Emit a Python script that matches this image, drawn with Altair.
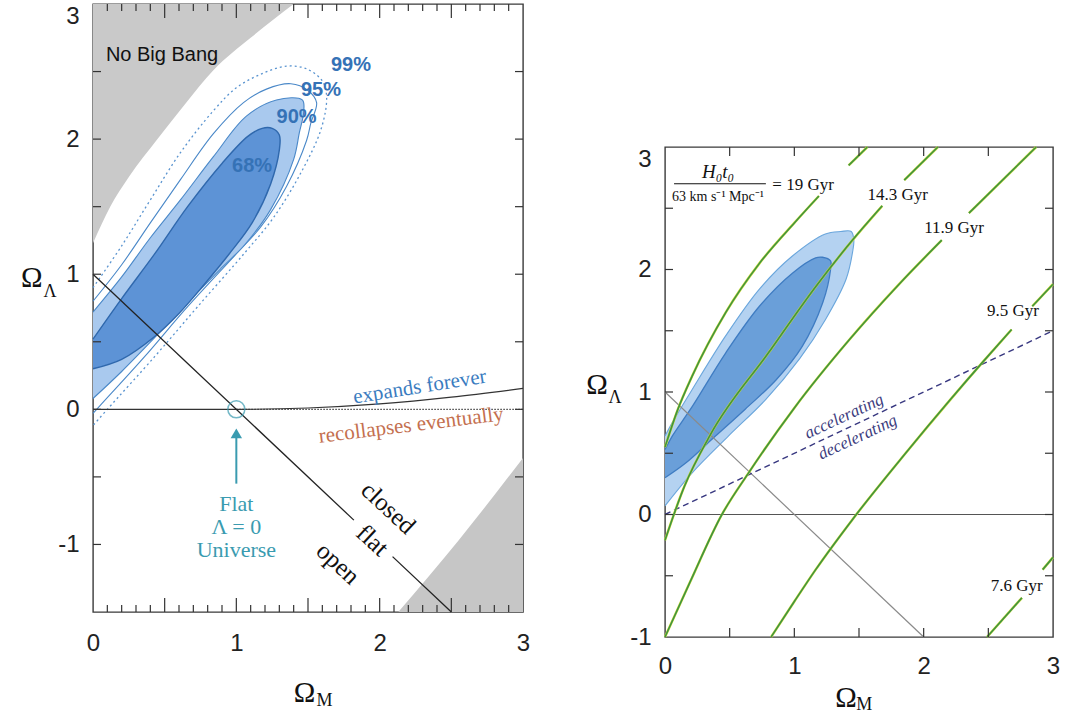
import altair as alt
import pandas as pd

# ---------------- LEFT PANEL DATA ----------------
nbb_x = [0.0, 0.06, 0.12, 0.25, 0.45, 0.65, 0.84, 1.1, 1.4]
nbb_y = [1.23, 1.37, 1.5, 1.72, 2.0, 2.27, 2.51, 2.75, 3.0]
br_x = [2.13, 2.55, 3.0]
br_y = [-1.5, -0.97, -0.36]

dark68_x = [0.0, 0.2, 0.43, 0.66, 0.9, 1.08, 1.18, 1.25, 1.30, 1.30, 1.24, 1.11, 0.95, 0.78, 0.6, 0.42, 0.2, 0.0]
dark68_y = [0.52, 0.82, 1.15, 1.50, 1.82, 2.02, 2.08, 2.08, 2.03, 1.92, 1.67, 1.38, 1.15, 0.93, 0.71, 0.53, 0.37, 0.30]
light90_x = [0.0, 0.2, 0.4, 0.61, 0.84, 1.07, 1.28, 1.46, 1.47, 1.44, 1.40, 1.24, 1.06, 0.9, 0.66, 0.43, 0.2, 0.0]
light90_y = [0.72, 0.98, 1.27, 1.55, 1.87, 2.17, 2.29, 2.29, 2.2, 2.05, 1.85, 1.48, 1.22, 1.05, 0.79, 0.53, 0.28, 0.08]
c95_x = [0.0, 0.2, 0.4, 0.61, 0.84, 1.05, 1.21, 1.38, 1.50, 1.56, 1.52, 1.49, 1.35, 1.17, 0.99, 0.66, 0.36, 0.06, 0.0]
c95_y = [0.80, 1.07, 1.38, 1.70, 2.04, 2.27, 2.37, 2.41, 2.36, 2.27, 2.12, 1.99, 1.65, 1.35, 1.14, 0.76, 0.39, 0.04, -0.03]
c99_x = [0.0, 0.2, 0.4, 0.61, 0.84, 1.0, 1.17, 1.35, 1.49, 1.60, 1.63, 1.59, 1.45, 1.26, 1.06, 0.73, 0.43, 0.1, 0.0]
c99_y = [0.90, 1.21, 1.55, 1.90, 2.21, 2.38, 2.48, 2.54, 2.52, 2.43, 2.31, 2.07, 1.75, 1.42, 1.16, 0.76, 0.39, 0.0, -0.12]

expand_x = [0.0, 1.0, 1.5, 2.0, 2.5, 3.0]
expand_y = [0.0, 0.0, 0.01, 0.04, 0.09, 0.155]
zero_x = [1.0, 3.0]
zero_y = [0.0, 0.0]
flat1_x = [0.0, 1.82]
flat1_y = [1.0, -0.82]
flat2_x = [2.09, 2.5]
flat2_y = [-1.09, -1.5]

pct_labels = ["68%", "90%", "95%", "99%"]
pct_x = [1.11, 1.42, 1.59, 1.80]
pct_y = [1.80, 2.16, 2.36, 2.55]

flat_words = ["closed", "flat", "open"]
flat_words_x = [2.06, 1.95, 1.71]
flat_words_y = [-0.73, -0.97, -1.14]

univ_lines = ["Flat", "Λ = 0", "Universe"]
univ_x = [1.0, 1.0, 1.0]
univ_y = [-0.70, -0.87, -1.04]

# ---------------- RIGHT PANEL DATA ----------------
rdark_x = [0.0, 0.056, 0.21, 0.47, 0.73, 0.985, 1.165, 1.217, 1.28, 1.28, 1.22, 1.06, 0.86, 0.62, 0.39, 0.16, 0.0]
rdark_y = [0.53, 0.64, 0.88, 1.32, 1.70, 1.97, 2.095, 2.10, 2.07, 2.0, 1.73, 1.37, 1.10, 0.86, 0.64, 0.42, 0.30]
rlight_x = [0.0, 0.056, 0.21, 0.47, 0.73, 0.985, 1.24, 1.36, 1.44, 1.46, 1.45, 1.40, 1.24, 1.04, 0.78, 0.49, 0.21, 0.0]
rlight_y = [0.64, 0.75, 1.02, 1.46, 1.84, 2.11, 2.29, 2.31, 2.31, 2.24, 2.14, 1.92, 1.59, 1.27, 0.94, 0.64, 0.34, 0.07]

age19a_x = [0.0, 0.1, 0.21, 0.47, 0.73, 1.0, 1.19]
age19a_y = [0.55, 0.86, 1.13, 1.65, 2.05, 2.38, 2.6]
age19b_x = [1.42, 1.565]
age19b_y = [2.85, 3.0]
age143a_x = [0.0, 0.15, 0.35, 0.80, 1.165, 1.45, 1.68]
age143a_y = [-0.21, 0.23, 0.65, 1.32, 1.86, 2.24, 2.52]
age143b_x = [1.85, 2.11]
age143b_y = [2.73, 3.0]
age119a_x = [0.0, 0.19, 0.44, 0.64, 1.0, 1.42, 1.81, 2.14]
age119a_y = [-1.0, -0.56, 0.0, 0.33, 0.87, 1.42, 1.88, 2.24]
age119b_x = [2.35, 2.87]
age119b_y = [2.46, 3.0]
age95a_x = [0.82, 1.0, 1.165, 1.45, 1.86, 2.2, 2.47, 2.68]
age95a_y = [-1.0, -0.71, -0.45, -0.04, 0.5, 0.93, 1.26, 1.51]
age95b_x = [2.84, 3.0]
age95b_y = [1.70, 1.88]
age76a_x = [2.49, 2.76]
age76a_y = [-1.0, -0.68]
age76b_x = [2.92, 3.0]
age76b_y = [-0.45, -0.35]

age_labels = ["14.3 Gyr", "11.9 Gyr", "9.5 Gyr", "7.6 Gyr"]
age_lab_x = [1.80, 2.235, 2.69, 2.72]
age_lab_y = [2.61, 2.34, 1.66, -0.585]

accel_x = [0.0, 3.0]
accel_y = [0.0, 1.5]
rflat_x = [0.0, 2.0]
rflat_y = [1.0, -1.0]
rzero_x = [0.0, 3.0]
rzero_y = [0.0, 0.0]

# tick values
L_xmajor = [0.5, 1.0, 1.5, 2.0, 2.5]
L_xminor = [0.1, 0.2, 0.3, 0.4, 0.6, 0.7, 0.8, 0.9, 1.1, 1.2, 1.3, 1.4, 1.6, 1.7, 1.8, 1.9,
            2.1, 2.2, 2.3, 2.4, 2.6, 2.7, 2.8, 2.9]
L_yticks = [-1.0, -0.5, 0.0, 0.5, 1.0, 1.5, 2.0, 2.5]
R_xticks = [0.5, 1.0, 1.5, 2.0, 2.5]
R_yticks = [-0.5, 0.0, 0.5, 1.0, 1.5, 2.0, 2.5]
x_tick_labels = [0, 1, 2, 3]
y_tick_labels = [-1, 0, 1, 2, 3]

SERIF = "Liberation Serif"
SANS = "Liberation Sans"


def pts(xs, ys):
    return pd.DataFrame({"x": xs, "y": ys, "i": list(range(len(xs)))})


def txt(labels, xs, ys):
    return pd.DataFrame({"t": labels, "x": xs, "y": ys})


HYPH = "datum.value < 0 ? '-' + abs(datum.value) : '' + datum.value"
TOPBASE = {"condition": {"test": "datum.value == 3", "value": "top"}, "value": "middle"}


def x_axis(pad):
    return alt.Axis(values=x_tick_labels, labelExpr=HYPH, grid=False, ticks=False, domain=False,
                    labelFlush=False, labelFont=SANS, labelFontSize=24, labelColor="#222",
                    labelPadding=pad, title=None)


def y_axis():
    return alt.Axis(values=y_tick_labels, labelExpr=HYPH, grid=False, ticks=False, domain=False,
                    labelFlush=False, labelFont=SANS, labelFontSize=24, labelColor="#222",
                    labelPadding=14, title=None, labelBaseline=TOPBASE)


# ================= LEFT =================
WL, HL = 430, 608
XL = alt.Scale(domain=[0, 3], nice=False, zero=False)
YL = alt.Scale(domain=[-1.5, 3], nice=False, zero=False)


def LX(f="x"):
    return alt.X(f + ":Q", scale=XL, axis=x_axis(19))


def LY(f="y"):
    return alt.Y(f + ":Q", scale=YL, axis=y_axis())


def poly(xs, ys, fill, stroke, sw=1.2, dash=None, sx=LX, sy=LY, interp="linear"):
    kw = dict(stroke=stroke, strokeWidth=sw, interpolate=interp)
    if fill:
        kw["fill"] = fill
    if dash:
        kw["strokeDash"] = dash
    return alt.Chart(pts(xs, ys)).mark_line(**kw).encode(
        x=sx(), y=sy(), order=alt.Order("i:Q"))


df_nbb = pts(nbb_x, nbb_y)
df_nbb["y2"] = 3.0
gray_tl = alt.Chart(df_nbb).mark_area(color="#c9c9c9", interpolate="monotone").encode(
    x=LX(), y=LY(), y2=alt.Y2("y2:Q"))
df_br = pts(br_x, br_y)
df_br["y2"] = -1.5
gray_br = alt.Chart(df_br).mark_area(color="#c6c6c6", interpolate="monotone").encode(
    x=LX(), y=LY(), y2=alt.Y2("y2:Q"))

c99 = poly(c99_x, c99_y, None, "#5a94d0", 1.3, [2, 3], interp="catmull-rom")
c95 = poly(c95_x, c95_y, None, "#4a88c8", 1.1, interp="catmull-rom")
light90 = poly(light90_x, light90_y, "#a9c9ee", "#4a88c8", 1.1, interp="catmull-rom")
dark68 = poly(dark68_x, dark68_y, "#5d93d6", "#2f68ad", 1.4, interp="catmull-rom")

zero_dot = poly(zero_x, zero_y, None, "#444", 1.1, [1.5, 1.5])
expand = poly(expand_x, expand_y, None, "#333", 1.2, interp="monotone")
flat1 = poly(flat1_x, flat1_y, None, "#222", 1.3)
flat2 = poly(flat2_x, flat2_y, None, "#222", 1.3)

circle = alt.Chart(pd.DataFrame({"x": [1.0], "y": [0.0]})).mark_point(
    shape="circle", size=290, filled=False, stroke="#3a9bb0", strokeWidth=1.5).encode(x=LX(), y=LY())
arrow_shaft = alt.Chart(pd.DataFrame({"x": [1.0], "y": [-0.55], "y2": [-0.2]})).mark_rule(
    color="#3a9bb0", strokeWidth=2).encode(x=LX(), y=LY(), y2=alt.Y2("y2:Q"))
arrow_head = alt.Chart(pd.DataFrame({"x": [1.0], "y": [-0.178]})).mark_point(
    shape="triangle-up", size=130, filled=True, color="#3a9bb0", opacity=1).encode(x=LX(), y=LY())

t_nbb = alt.Chart(txt(["No Big Bang"], [0.09], [2.62])).mark_text(
    font=SANS, fontSize=20, align="left", color="#111").encode(x=LX(), y=LY(), text="t:N")
t_pct = alt.Chart(txt(pct_labels, pct_x, pct_y)).mark_text(
    font=SANS, fontSize=20, fontWeight="bold", color="#3572b6").encode(x=LX(), y=LY(), text="t:N")
t_exp = alt.Chart(txt(["expands forever"], [2.28], [0.165])).mark_text(
    font=SERIF, fontSize=21, color="#3a7cc0", angle=351).encode(x=LX(), y=LY(), text="t:N")
t_rec = alt.Chart(txt(["recollapses eventually"], [2.22], [-0.12])).mark_text(
    font=SERIF, fontSize=21, color="#c4704f", angle=353).encode(x=LX(), y=LY(), text="t:N")
t_cfo = alt.Chart(txt(flat_words, flat_words_x, flat_words_y)).mark_text(
    font=SERIF, fontSize=25, color="#111", angle=43).encode(x=LX(), y=LY(), text="t:N")
t_univ = alt.Chart(txt(univ_lines, univ_x, univ_y)).mark_text(
    font=SERIF, fontSize=22, color="#3a9bb0").encode(x=LX(), y=LY(), text="t:N")

t_L_om = alt.Chart(txt(["Ω", "Ω"], [1.475, -0.427], [-2.10, 0.97])).mark_text(
    font=SERIF, fontSize=29, color="#111").encode(x=LX(), y=LY(), text="t:N")
t_L_sub = alt.Chart(txt(["M", "Λ"], [1.615, -0.30], [-2.16, 0.867])).mark_text(
    font=SERIF, fontSize=18, color="#111").encode(x=LX(), y=LY(), text="t:N")

df_Lxmaj = pd.DataFrame({"v": L_xmajor})
df_Lxmin = pd.DataFrame({"v": L_xminor})
df_Ly = pd.DataFrame({"v": L_yticks})
tick_kw = dict(color="#333", strokeWidth=1.2)
L_ticks = [
    alt.Chart(df_Lxmaj).mark_rule(**tick_kw).encode(x=LX("v"), y=alt.value(HL), y2=alt.value(HL - 14)),
    alt.Chart(df_Lxmaj).mark_rule(**tick_kw).encode(x=LX("v"), y=alt.value(0), y2=alt.value(14)),
    alt.Chart(df_Lxmin).mark_rule(**tick_kw).encode(x=LX("v"), y=alt.value(HL), y2=alt.value(HL - 7)),
    alt.Chart(df_Lxmin).mark_rule(**tick_kw).encode(x=LX("v"), y=alt.value(0), y2=alt.value(7)),
    alt.Chart(df_Ly).mark_rule(**tick_kw).encode(y=LY("v"), x=alt.value(0), x2=alt.value(8)),
    alt.Chart(df_Ly).mark_rule(**tick_kw).encode(y=LY("v"), x=alt.value(WL), x2=alt.value(WL - 8)),
]

left = alt.layer(
    gray_tl, gray_br, c99, c95, light90, dark68, zero_dot, expand, flat1, flat2,
    circle, arrow_shaft, arrow_head, t_nbb, t_pct, t_exp, t_rec, t_cfo, t_univ,
    t_L_om, t_L_sub, *L_ticks
).properties(width=WL, height=HL)

# ================= RIGHT =================
WR, HR = 388, 490
XR = alt.Scale(domain=[0, 3], nice=False, zero=False)
YR = alt.Scale(domain=[-1, 3], nice=False, zero=False)


def RX(f="x"):
    return alt.X(f + ":Q", scale=XR, axis=x_axis(17))


def RY(f="y"):
    return alt.Y(f + ":Q", scale=YR, axis=y_axis())


rlight = poly(rlight_x, rlight_y, "#b4d2f1", "#6aa6dc", 1.1, sx=RX, sy=RY, interp="catmull-rom")
rdark = poly(rdark_x, rdark_y, "#6a9fd9", "#3f7cc2", 1.3, sx=RX, sy=RY, interp="catmull-rom")
rzero = poly(rzero_x, rzero_y, None, "#555", 1.2, sx=RX, sy=RY)
rflat = poly(rflat_x, rflat_y, None, "#8a8a8a", 1.2, sx=RX, sy=RY)
accel = poly(accel_x, accel_y, None, "#383880", 1.4, [6, 4], sx=RX, sy=RY)

green_segs = [(age19a_x, age19a_y), (age19b_x, age19b_y), (age143a_x, age143a_y), (age143b_x, age143b_y),
              (age119a_x, age119a_y), (age119b_x, age119b_y), (age95a_x, age95a_y), (age95b_x, age95b_y),
              (age76a_x, age76a_y), (age76b_x, age76b_y)]
greens = []
for gx, gy in green_segs:
    greens.append(poly(gx, gy, None, "#d2dc3a", 2.5, sx=RX, sy=RY, interp="monotone"))
    greens.append(poly(gx, gy, None, "#3f9440", 1.6, sx=RX, sy=RY, interp="monotone"))

t_age = alt.Chart(txt(age_labels, age_lab_x, age_lab_y)).mark_text(
    font=SERIF, fontSize=17, color="#111").encode(x=RX(), y=RY(), text="t:N")
t_19 = alt.Chart(txt(["=  19 Gyr"], [0.83], [2.69])).mark_text(
    font=SERIF, fontSize=17, color="#111", align="left").encode(x=RX(), y=RY(), text="t:N")
t_num = alt.Chart(txt(["H₀t₀"], [0.41], [2.80])).mark_text(
    font=SERIF, fontSize=19, fontStyle="italic", color="#111").encode(x=RX(), y=RY(), text="t:N")
t_den = alt.Chart(txt(["63 km s⁻¹ Mpc⁻¹"], [0.41], [2.59])).mark_text(
    font=SERIF, fontSize=14, color="#111").encode(x=RX(), y=RY(), text="t:N")
frac_bar = alt.Chart(pd.DataFrame({"x": [0.07], "x2": [0.78], "y": [2.70]})).mark_rule(
    color="#111", strokeWidth=1.1).encode(x=RX(), x2=alt.X2("x2:Q"), y=RY())
t_acc = alt.Chart(txt(["accelerating", "decelerating"], [1.385, 1.49], [0.80, 0.63])).mark_text(
    font=SERIF, fontSize=17, fontStyle="italic", color="#3b3b7d", angle=335).encode(x=RX(), y=RY(), text="t:N")

t_R_om = alt.Chart(txt(["Ω", "Ω"], [1.40, -0.526], [-1.50, 1.06])).mark_text(
    font=SERIF, fontSize=29, color="#111").encode(x=RX(), y=RY(), text="t:N")
t_R_sub = alt.Chart(txt(["M", "Λ"], [1.54, -0.387], [-1.555, 0.955])).mark_text(
    font=SERIF, fontSize=18, color="#111").encode(x=RX(), y=RY(), text="t:N")

df_Rx = pd.DataFrame({"v": R_xticks})
df_Ry = pd.DataFrame({"v": R_yticks})
R_ticks = [
    alt.Chart(df_Rx).mark_rule(**tick_kw).encode(x=RX("v"), y=alt.value(HR), y2=alt.value(HR - 9)),
    alt.Chart(df_Rx).mark_rule(**tick_kw).encode(x=RX("v"), y=alt.value(0), y2=alt.value(9)),
    alt.Chart(df_Ry).mark_rule(**tick_kw).encode(y=RY("v"), x=alt.value(0), x2=alt.value(8)),
    alt.Chart(df_Ry).mark_rule(**tick_kw).encode(y=RY("v"), x=alt.value(WR), x2=alt.value(WR - 8)),
]

right = alt.layer(
    rlight, rdark, rzero, rflat, accel, *greens, t_age, t_19, t_num, t_den, frac_bar, t_acc,
    t_R_om, t_R_sub, *R_ticks
).properties(width=WR, height=HR)

spacer = alt.Chart(pd.DataFrame({"a": [0]})).mark_point(size=1, opacity=0).encode(
    x=alt.value(3), y=alt.value(3)
).properties(width=10, height=137, view=alt.ViewBackground(strokeOpacity=0))

right_col = alt.vconcat(spacer, right, spacing=0)

chart = alt.hconcat(left, right_col, spacing=54).properties(
    padding={"left": 20, "top": 2, "right": 0, "bottom": 0},
    background="white",
).configure_view(stroke="#3a3a3a", strokeWidth=1.4)

chart.save("out.html", embed_options={"renderer": "svg", "actions": False})
